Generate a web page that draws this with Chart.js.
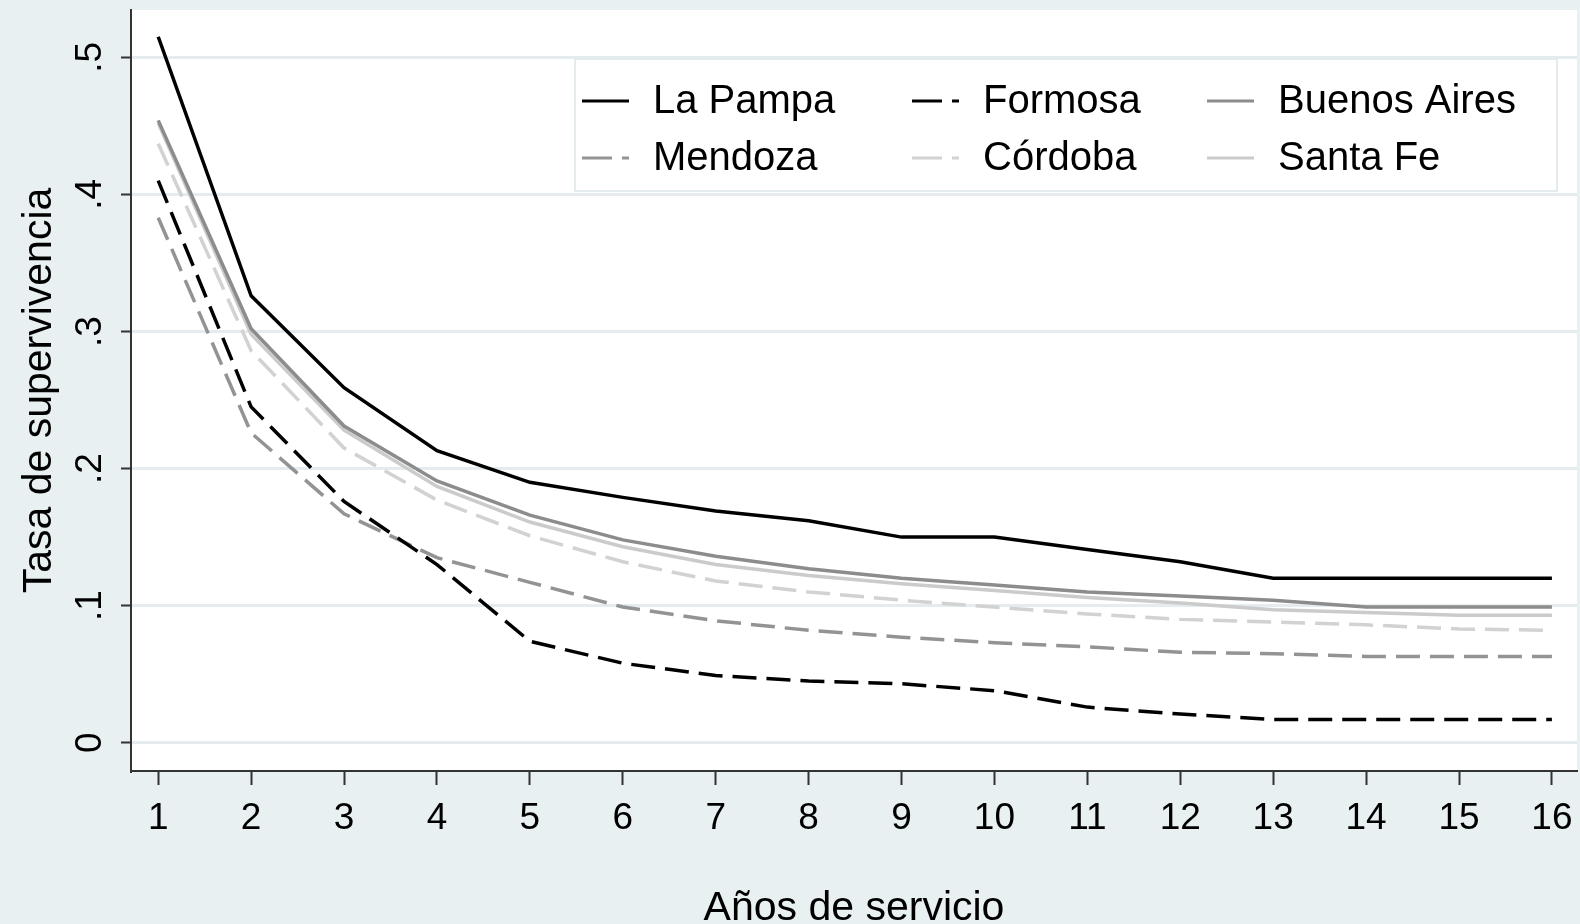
<!DOCTYPE html>
<html>
<head>
<meta charset="utf-8">
<script src="https://cdn.jsdelivr.net/npm/chart.js@4.4.0/dist/chart.umd.min.js"></script>
<style>
  html, body { margin: 0; padding: 0; background: #e9f0f2; }
</style>
</head>
<body>
<canvas id="survival_plot" width="1580" height="924"></canvas>
<script>
// years of service and survival rate per province
const years = [1, 2, 3, 4, 5, 6, 7, 8, 9, 10, 11, 12, 13, 14, 15, 16];
const yTicks = [0, 0.1, 0.2, 0.3, 0.4, 0.5];

const laPampa     = [0.515, 0.326, 0.259, 0.213, 0.190, 0.179, 0.169, 0.162, 0.150, 0.150, 0.141, 0.132, 0.120, 0.120, 0.120, 0.120];
const formosa     = [0.410, 0.245, 0.176, 0.130, 0.074, 0.058, 0.049, 0.045, 0.043, 0.038, 0.026, 0.021, 0.017, 0.017, 0.017, 0.017];
const buenosAires = [0.454, 0.302, 0.231, 0.191, 0.166, 0.148, 0.136, 0.127, 0.120, 0.115, 0.110, 0.107, 0.104, 0.099, 0.099, 0.099];
const mendoza     = [0.383, 0.226, 0.167, 0.135, 0.117, 0.099, 0.089, 0.082, 0.077, 0.073, 0.070, 0.066, 0.065, 0.063, 0.063, 0.063];
const cordoba     = [0.437, 0.286, 0.215, 0.177, 0.151, 0.132, 0.118, 0.110, 0.104, 0.099, 0.094, 0.090, 0.088, 0.086, 0.083, 0.082];
const santaFe     = [0.452, 0.298, 0.228, 0.187, 0.161, 0.143, 0.130, 0.122, 0.116, 0.111, 0.106, 0.102, 0.097, 0.095, 0.093, 0.093];

const FONT = "'Liberation Sans', Arial, sans-serif";

function toPoints(values) {
  return values.map((v, i) => ({ x: years[i], y: v }));
}

function lineSeries(label, values, color, dash) {
  return {
    label: label,
    data: toPoints(values),
    borderColor: color,
    borderWidth: 3.5,
    borderDash: dash,
    pointRadius: 0,
    tension: 0,
    fill: false
  };
}

const datasets = [
  lineSeries("La Pampa", laPampa, "#000000", []),
  lineSeries("Formosa", formosa, "#000000", [24, 10]),
  lineSeries("Buenos Aires", buenosAires, "#8c8c8c", []),
  lineSeries("Mendoza", mendoza, "#939393", [24, 10]),
  lineSeries("Córdoba", cordoba, "#d2d2d2", [24, 10]),
  lineSeries("Santa Fe", santaFe, "#cbcbcb", [])
];

// grey page, white plot region
const plotBackground = {
  id: "plotBackground",
  beforeDraw(chart) {
    const { ctx, chartArea: a } = chart;
    ctx.save();
    ctx.fillStyle = "#e9f0f2";
    ctx.fillRect(0, 0, chart.width, chart.height);
    ctx.fillStyle = "#ffffff";
    ctx.fillRect(a.left, a.top, a.right - a.left, a.bottom - a.top);
    ctx.restore();
  }
};

// stata style legend box, 3 columns x 2 rows inside the plot
const boxLegend = {
  id: "boxLegend",
  afterDatasetsDraw(chart) {
    const ctx = chart.ctx;
    const colX = [582, 912, 1207];
    const rowY = [101, 158];
    const textGap = 71;
    ctx.save();
    ctx.fillStyle = "#ffffff";
    ctx.strokeStyle = "#e3ebee";
    ctx.lineWidth = 2;
    ctx.fillRect(575, 59, 982, 132);
    ctx.strokeRect(575, 59, 982, 132);
    ctx.font = "40px " + FONT;
    ctx.textBaseline = "middle";
    chart.data.datasets.forEach((ds, i) => {
      const x = colX[i % 3];
      const y = rowY[Math.floor(i / 3)];
      ctx.strokeStyle = ds.borderColor;
      ctx.lineWidth = 3;
      ctx.setLineDash(ds.borderDash.length ? [30, 10] : []);
      ctx.beginPath();
      ctx.moveTo(x, y);
      ctx.lineTo(x + 47, y);
      ctx.stroke();
      ctx.setLineDash([]);
      ctx.fillStyle = "#000000";
      ctx.fillText(ds.label, x + textGap, y + 1);
    });
    ctx.restore();
  }
};

new Chart(document.getElementById("survival_plot"), {
  type: "line",
  data: { datasets: datasets },
  plugins: [plotBackground, boxLegend],
  options: {
    responsive: false,
    animation: false,
    layout: { padding: { top: 10, right: 3, left: 0, bottom: 0 } },
    plugins: {
      legend: { display: false },
      tooltip: { enabled: false }
    },
    scales: {
      x: {
        type: "linear",
        min: 0.707,
        max: 16.27,
        afterBuildTicks: s => { s.ticks = years.map(v => ({ value: v })); },
        afterFit: s => { s.height = 153; s.paddingLeft = 0; s.paddingRight = 0; },
        border: { display: true, color: "#333333", width: 2 },
        grid: { drawOnChartArea: false, drawTicks: true, tickLength: 14, tickWidth: 2, tickColor: "#333333" },
        ticks: {
          autoSkip: false,
          maxRotation: 0,
          padding: 12,
          color: "#000000",
          font: { family: FONT, size: 37 }
        },
        title: {
          display: true,
          text: "Años de servicio",
          color: "#000000",
          font: { family: FONT, size: 41, lineHeight: 1 },
          padding: { top: 0, bottom: -5 }
        }
      },
      y: {
        type: "linear",
        min: -0.0206,
        max: 0.5345,
        afterBuildTicks: s => { s.ticks = yTicks.map(v => ({ value: v })); },
        afterFit: s => { s.width = 131; s.paddingTop = 0; s.paddingBottom = 0; },
        border: { display: true, color: "#333333", width: 2 },
        grid: { color: "#e4ecef", lineWidth: 3, drawTicks: true, tickLength: 10, tickWidth: 2, tickColor: "#333333" },
        ticks: {
          minRotation: 90,
          maxRotation: 90,
          crossAlign: "center",
          padding: 15,
          color: "#000000",
          font: { family: FONT, size: 37 },
          callback: v => (v === 0 ? "0" : "." + Math.round(v * 10))
        },
        title: {
          display: true,
          text: "Tasa de supervivencia",
          color: "#000000",
          font: { family: FONT, size: 41 },
          padding: { top: 15, bottom: 0 }
        }
      }
    }
  }
});
</script>
</body>
</html>
